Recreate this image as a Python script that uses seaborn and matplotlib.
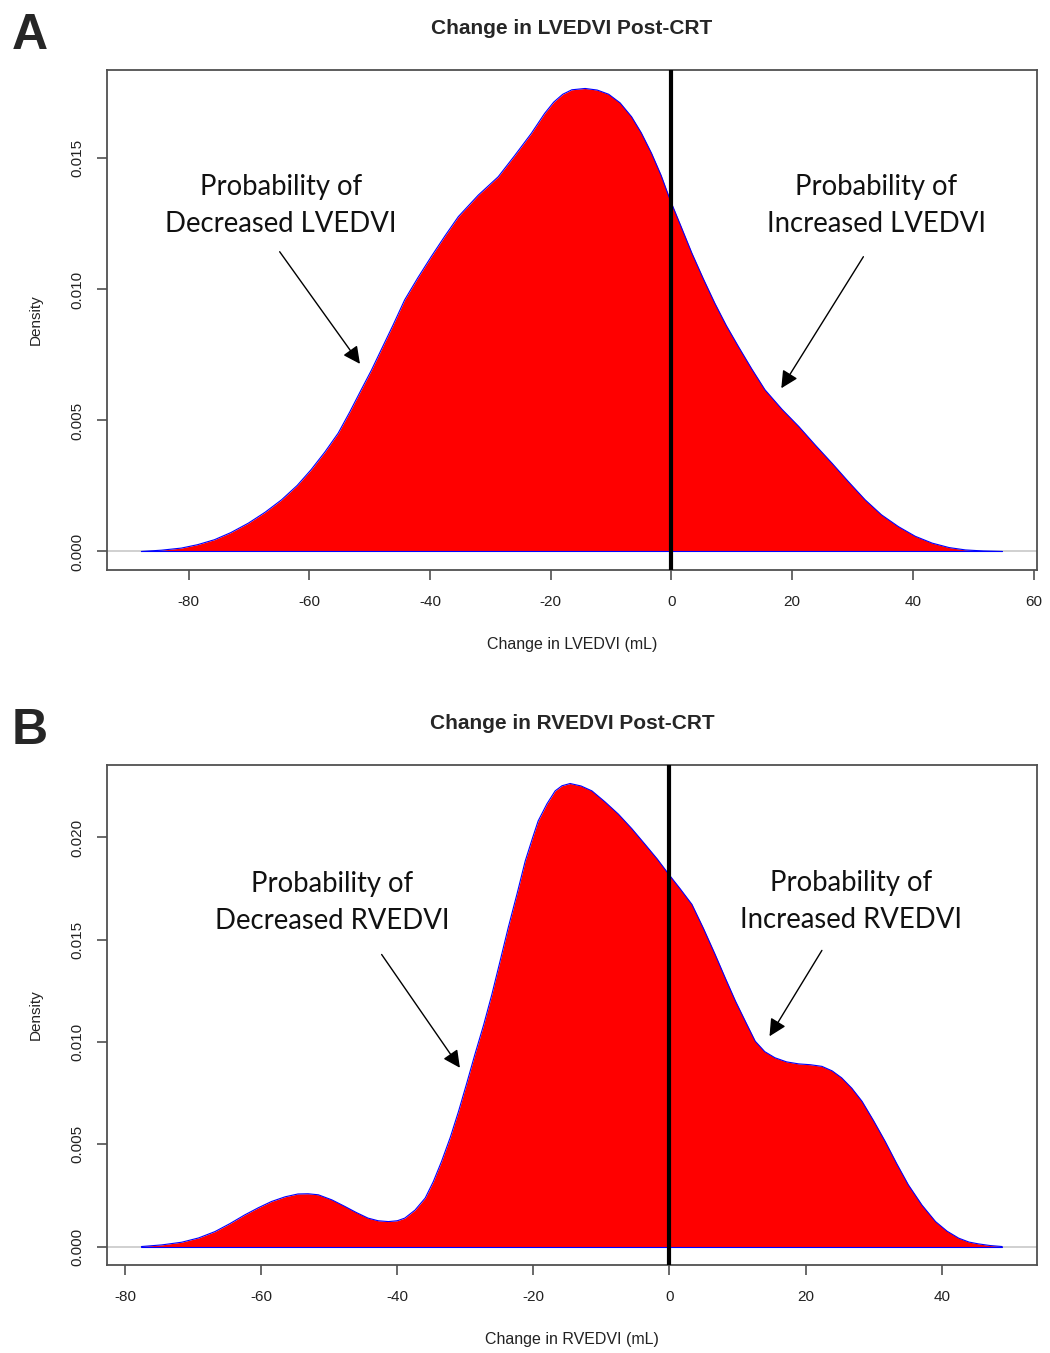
import matplotlib
matplotlib.use("Agg")
import matplotlib.pyplot as plt
import numpy as np
import pandas as pd
import seaborn as sns

sns.set_theme(style="ticks")
plt.rcParams["font.family"] = ["Liberation Sans", "DejaVu Sans"]

# density curves
lv_x = [-87.8, -84.5, -81.2, -78.5, -75.7, -73.0, -70.1, -67.3, -64.6, -62.0,
        -59.7, -57.4, -55.2, -53.3, -51.4, -49.7, -48.1, -46.1, -44.2, -42.0,
        -39.8, -37.5, -35.3, -32.0, -28.7, -26.0, -23.2, -21.0, -19.5, -18.0,
        -16.5, -14.3, -12.3, -10.4, -8.5, -6.6, -5.0, -3.3, -1.7, -0.2,
        1.6, 3.4, 5.3, 7.2, 9.1, 11.1, 13.3, 15.5, 18.3, 21.1,
        23.8, 26.6, 29.3, 32.1, 34.8, 37.6, 40.4, 43.2, 46.0, 48.7, 51.7, 54.8]
lv_density = [0.0, 0.00005, 0.00013, 0.00026, 0.00045, 0.00072, 0.00108, 0.0015, 0.00197, 0.00252,
              0.00312, 0.0038, 0.00452, 0.00532, 0.00617, 0.00692, 0.00769, 0.00865, 0.0096, 0.01045,
              0.01125, 0.01205, 0.01278, 0.0136, 0.0143, 0.0151, 0.01596, 0.01672, 0.01715, 0.01745,
              0.01762, 0.01767, 0.01761, 0.01745, 0.01712, 0.01659, 0.01598, 0.0152, 0.01435, 0.01341,
              0.0124, 0.01138, 0.0104, 0.00947, 0.00862, 0.00782, 0.00697, 0.00617, 0.00543, 0.00477,
              0.00407, 0.00337, 0.00267, 0.00197, 0.0014, 0.00095, 0.00058, 0.00032, 0.00015, 0.00006,
              0.00002, 0.0]

rv_x = [-77.6, -74.6, -71.7, -69.2, -66.8, -64.6, -62.4, -60.4, -58.5, -56.5,
        -54.6, -53.1, -51.6, -49.6, -47.7, -46.0, -44.3, -42.8, -41.3, -40.0,
        -38.9, -37.4, -35.9, -34.7, -33.5, -32.2, -31.0, -29.8, -28.6, -27.3,
        -26.1, -24.9, -23.7, -22.4, -21.2, -20.2, -19.3, -18.0, -16.8, -15.8,
        -14.6, -13.0, -11.4, -9.5, -7.5, -5.5, -3.6, -1.8, -0.1, 1.6,
        3.3, 5.0, 6.7, 8.2, 9.7, 11.2, 12.6, 14.0, 15.5, 17.2,
        19.0, 20.7, 22.4, 23.9, 25.3, 26.8, 28.3, 30.0, 31.7, 33.4,
        35.1, 37.1, 39.1, 40.8, 42.5, 44.0, 45.4, 47.1, 48.9]
rv_density = [0.0, 0.00008, 0.00021, 0.00042, 0.00073, 0.00112, 0.00155, 0.0019, 0.0022, 0.00243,
              0.00257, 0.00258, 0.00253, 0.00228, 0.00196, 0.00166, 0.00139, 0.00126, 0.00122, 0.00126,
              0.00139, 0.00178, 0.00237, 0.00318, 0.00416, 0.00535, 0.00661, 0.00798, 0.00939, 0.01085,
              0.01233, 0.01395, 0.01559, 0.01725, 0.01885, 0.0199, 0.02081, 0.02165, 0.02228, 0.02253,
              0.02264, 0.02252, 0.02228, 0.02175, 0.02114, 0.02042, 0.01967, 0.01895, 0.0182, 0.01748,
              0.01673, 0.01555, 0.01429, 0.01313, 0.012, 0.01098, 0.01004, 0.00953, 0.00923, 0.00903,
              0.00893, 0.00889, 0.00881, 0.00859, 0.00825, 0.00774, 0.0071, 0.00615, 0.00514, 0.00405,
              0.00302, 0.00203, 0.00122, 0.00075, 0.00041, 0.00022, 0.00013, 0.00005, 0.0]

lv_xticks = [-80, -60, -40, -20, 0, 20, 40, 60]
lv_yticks = [0.000, 0.005, 0.010, 0.015]
rv_xticks = [-80, -60, -40, -20, 0, 20, 40]
rv_yticks = [0.000, 0.005, 0.010, 0.015, 0.020]

panels = [
    dict(letter="A", title="Change in LVEDVI Post-CRT", xlabel="Change in LVEDVI (mL)",
         x=lv_x, y=lv_density, xticks=lv_xticks, yticks=lv_yticks,
         rect=[0.1019, 0.5787, 0.8854, 0.3696], name="LVEDVI",
         left=((-64.7, 0.01321), (-64.9, 0.01144), (-51.6, 0.00716)),
         right=((33.9, 0.01321), (31.8, 0.01125), (18.2, 0.00623))),
    dict(letter="B", title="Change in RVEDVI Post-CRT", xlabel="Change in RVEDVI (mL)",
         x=rv_x, y=rv_density, xticks=rv_xticks, yticks=rv_yticks,
         rect=[0.1019, 0.0650, 0.8854, 0.3696], name="RVEDVI",
         left=((-49.6, 0.01682), (-42.3, 0.01428), (-30.8, 0.00874)),
         right=((26.7, 0.01686), (22.4, 0.01448), (14.7, 0.01028))),
]

fig = plt.figure(figsize=(10.5, 13.53), dpi=100)
box_col = "#505050"

for p in panels:
    ax = fig.add_axes(p["rect"])
    df = pd.DataFrame({"x": p["x"], "density": p["y"]})

    ax.axhline(0, color="#c8c8c8", lw=1.2, zorder=1)
    ax.fill_between(df["x"], df["density"], 0, color="red", lw=0, zorder=2)
    sns.lineplot(data=df, x="x", y="density", ax=ax, color="blue", lw=0.8,
                 sort=False, zorder=3)
    ax.plot([df["x"].iloc[0], df["x"].iloc[-1]], [0, 0], color="blue", lw=0.8, zorder=3)
    ax.axvline(0, color="black", lw=3, zorder=4)

    # R-style 4% padding
    xr = df["x"].max() - df["x"].min()
    ymax = df["density"].max()
    ax.set_xlim(df["x"].min() - 0.04 * xr, df["x"].max() + 0.04 * xr)
    ax.set_ylim(-0.04 * ymax, 1.04 * ymax)

    ax.set_xticks(p["xticks"])
    ax.set_yticks(p["yticks"])
    ax.set_xticklabels([str(t) for t in p["xticks"]])
    ax.set_yticklabels([f"{t:.3f}" for t in p["yticks"]], rotation=90, va="center")
    ax.tick_params(direction="out", length=7, width=1.2, color=box_col,
                   labelsize=11, labelcolor="#222222")
    ax.tick_params(axis="x", pad=11)
    ax.tick_params(axis="y", pad=9)
    for s in ax.spines.values():
        s.set_color(box_col)
        s.set_linewidth(1.3)

    ax.set_xlabel(p["xlabel"], fontsize=11.5, labelpad=20, color="#222222")
    ax.set_ylabel("Density", fontsize=11, labelpad=20, color="#222222")
    ax.set_title(p["title"], fontsize=15, fontweight="bold", pad=26)
    ax.text(-0.083, 1.068, p["letter"], transform=ax.transAxes, fontsize=36,
            fontweight="bold", ha="center", va="center")

    for side, word in (("left", "Decreased"), ("right", "Increased")):
        txt, start, tip = p[side]
        ax.text(txt[0], txt[1], f"Probability of\n{word} {p['name']}", ha="center",
                va="center", fontsize=19.8, family=["Lato", "DejaVu Sans"],
                linespacing=1.5, color="#111111", zorder=5)
        ax.annotate("", xy=tip, xytext=start,
                    arrowprops=dict(arrowstyle="-|>", color="black", lw=1,
                                    mutation_scale=26, shrinkA=0, shrinkB=0),
                    zorder=5)

fig.savefig("out.png", dpi=100)
